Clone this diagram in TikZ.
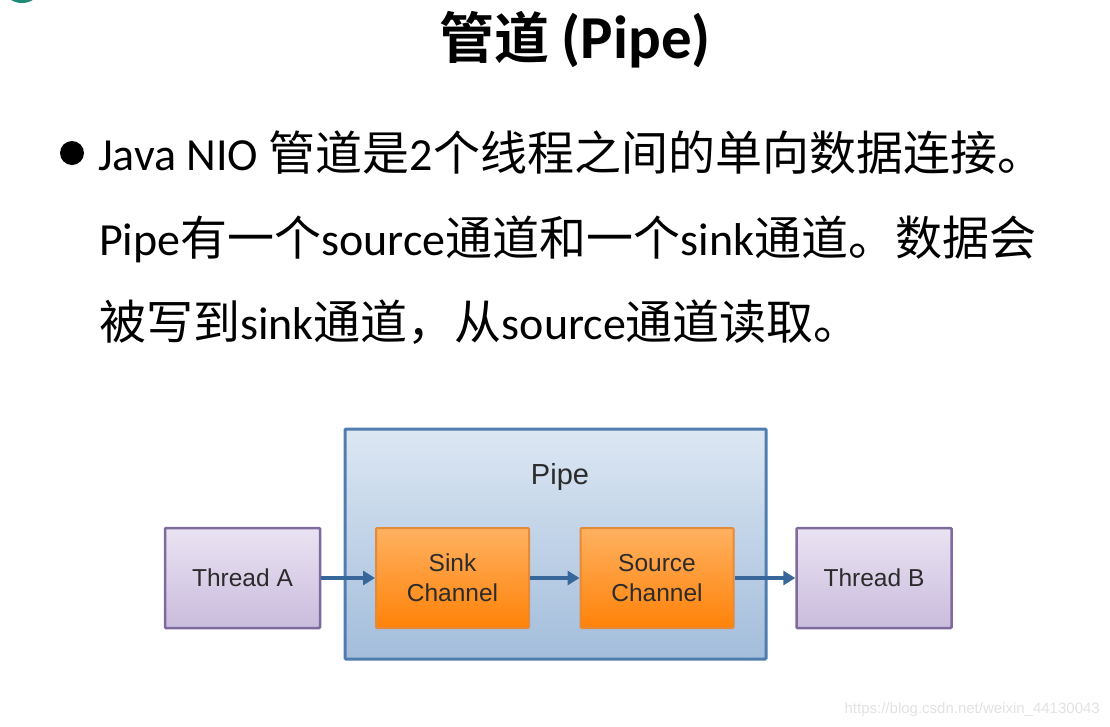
\documentclass[tikz,border=0pt]{standalone}
\usepackage{fontspec}
\setmainfont{Carlito}
\newfontfamily\cjk{Noto Sans CJK SC}
\newfontfamily\cjkb{Noto Sans CJK SC Bold}
\newfontfamily\lat{Carlito}
\newfontfamily\arial{Liberation Sans}
\usetikzlibrary{arrows.meta}
\definecolor{pipeborder}{HTML}{4F7DAE}
\definecolor{pipetop}{HTML}{DCE7F3}
\definecolor{pipebot}{HTML}{A3BDDB}
\definecolor{thrborder}{HTML}{7E6A9C}
\definecolor{thrtop}{HTML}{EAE3F2}
\definecolor{thrbot}{HTML}{C9BCDD}
\definecolor{chborder}{HTML}{E38B3A}
\definecolor{chtop}{HTML}{FFB161}
\definecolor{chbot}{HTML}{FF8208}
\definecolor{arrowc}{HTML}{36669A}
\definecolor{labelc}{HTML}{2B2B2B}
\definecolor{wmark}{HTML}{E2E2E2}
\definecolor{tealc}{HTML}{1F8A78}
\newcommand{\ck}[1]{{\cjk\fontsize{47}{47}\selectfont #1}}
\tikzset{
  thr/.style={draw=thrborder, line width=2.5pt, top color=thrtop, bottom color=thrbot,
    minimum width=155pt, minimum height=100pt, inner sep=0pt, rounded corners=1pt,
    font=\arial\fontsize{24.5}{30}\selectfont, text=labelc, align=center},
  chan/.style={draw=chborder, line width=2pt, top color=chtop, bottom color=chbot,
    minimum width=153pt, minimum height=100pt, inner sep=0pt, rounded corners=1pt,
    font=\arial\fontsize{24.5}{30}\selectfont, text=labelc, align=center},
  pipebox/.style={draw=pipeborder, line width=3pt, top color=pipetop, bottom color=pipebot,
    minimum width=421pt, minimum height=230pt, inner sep=0pt, rounded corners=1pt},
  flow/.style={draw=arrowc, line width=3.4pt, -{Triangle[length=12pt,width=14pt]}},
  body/.style={anchor=base west, inner sep=0pt, font=\lat\fontsize{46}{46}\selectfont}
}
\begin{document}
\begin{tikzpicture}[x=1pt,y=-1pt]
\useasboundingbox (0,0) rectangle (1110,726);
\begin{scope}
\clip (0,0) rectangle (1110,726);
\fill[tealc] (22,-7) ellipse [x radius=15, y radius=10];
\end{scope}
% title
\node[anchor=base, inner sep=0pt] (title) at (575,58)
  {{\cjkb\fontsize{55}{55}\selectfont 管道 }{\lat\bfseries\fontsize{61}{61}\selectfont (Pipe)}};
% bullet
\fill (72,153) circle [radius=12];
\node[body] (l1) at (98,170) {Java NIO \ck{管道是}2\ck{个线程之间的单向数据连接。}};
\node[body] (l2) at (99,255) {Pipe\ck{有一个}source\ck{通道和一个}sink\ck{通道。数据会}};
\node[body] (l3) at (99,339) {\ck{被写到}sink\ck{通道，从}source\ck{通道读取。}};
% diagram
\node[pipebox] (pipe) at (555.5,544) {};
\node[font=\arial\fontsize{29}{29}\selectfont, text=labelc] (pipelabel) at (560,477) {Pipe};
\node[thr] (ta) at (242.5,578) {Thread A};
\node[chan] (sink) at (452.5,578) {Sink\\Channel};
\node[chan] (source) at (657,578) {Source\\Channel};
\node[thr] (tb) at (874,578) {Thread B};
\draw[flow] (ta) -- (sink);
\draw[flow] (sink) -- (source);
\draw[flow] (source) -- (tb);
% watermark
\node[anchor=base east, inner sep=0pt, text=wmark, font=\arial\fontsize{15}{15}\selectfont] (wm) at (1100,713) {https://blog.csdn.net/weixin\_44130043};
\end{tikzpicture}
\end{document}
